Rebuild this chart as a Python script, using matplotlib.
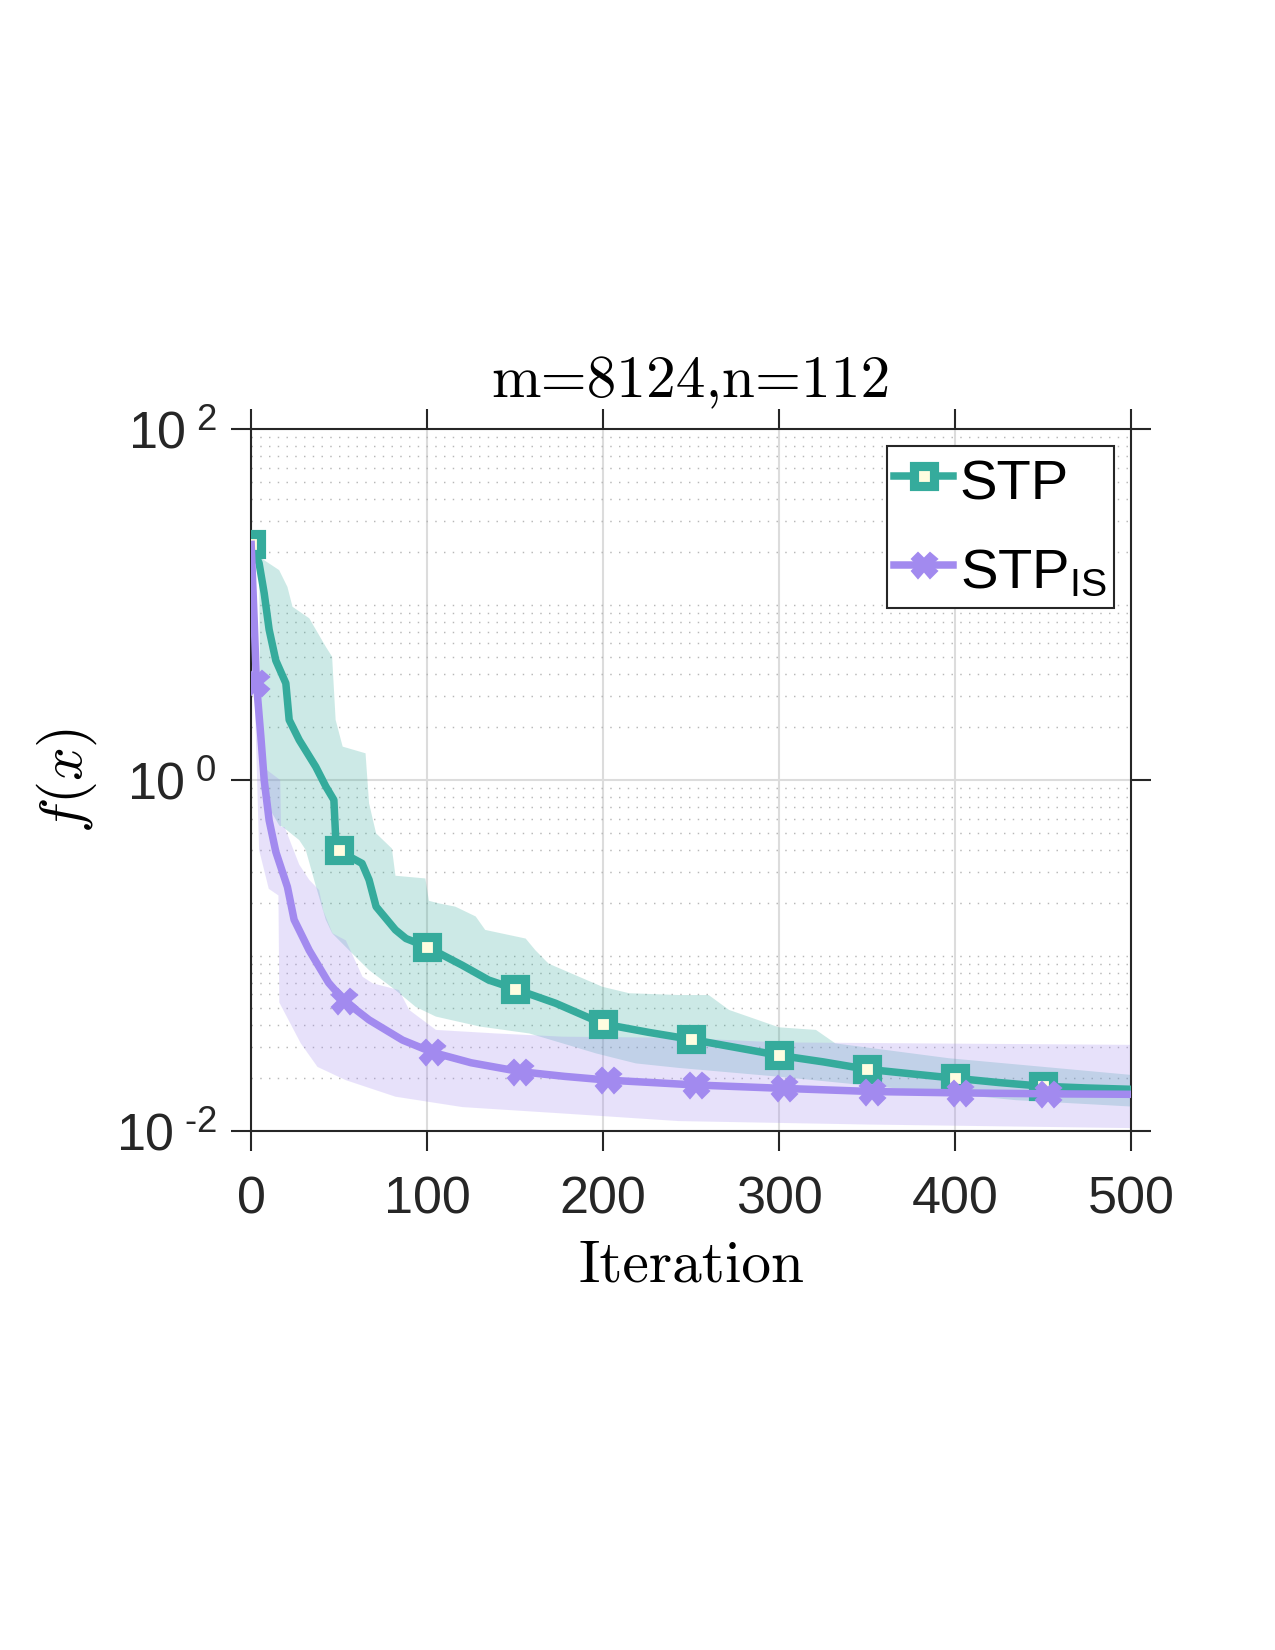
import numpy as np
import matplotlib
matplotlib.use('Agg')
import matplotlib.pyplot as plt
from matplotlib.ticker import FixedLocator, FixedFormatter, NullFormatter

plt.rcParams['font.family'] = 'Liberation Sans'
plt.rcParams['mathtext.fontset'] = 'custom'
plt.rcParams['mathtext.rm'] = 'Liberation Sans'
plt.rcParams['mathtext.it'] = 'Liberation Sans:italic'

GREEN = '#35AB9C'
PURPLE = '#A28AEF'
DARK = '#262626'

# ---- curvas medianas ----
stp_x = np.array([0, 4.5, 7.4, 10.2, 14, 19.7, 21.6, 27.3, 36.7, 42.4, 47, 48, 50, 55, 63, 67, 71,
                  82, 88, 100, 120, 135, 150, 173, 200, 226, 250, 275, 300, 325, 350, 375, 400,
                  425, 450, 475, 500])
stp_y = np.array([22, 17.2, 11.6, 7.2, 4.8, 3.56, 2.2, 1.69, 1.19, 0.92, 0.77, 0.475, 0.40, 0.37,
                  0.335, 0.27, 0.19, 0.14, 0.125, 0.112, 0.088, 0.0725, 0.0645, 0.0535, 0.0408,
                  0.0365, 0.0333, 0.030, 0.027, 0.0248, 0.0225, 0.0212, 0.0200, 0.0189, 0.0180,
                  0.0176, 0.0173])

is_x = np.array([0, 1.7, 3, 5.5, 7.4, 10.2, 14, 20.6, 24.4, 33, 44, 53, 67, 86, 103, 125, 153,
                 178, 203, 228, 253, 303, 353, 403, 453, 500])
is_y = np.array([22, 8.2, 3.56, 1.77, 1.0, 0.59, 0.39, 0.246, 0.16, 0.107, 0.070, 0.0552, 0.043,
                 0.033, 0.0281, 0.0245, 0.0218, 0.0205, 0.0195, 0.0189, 0.0183, 0.0175, 0.0168,
                 0.0165, 0.0163, 0.0162])

# ---- faixas (limite superior / inferior) ----
stp_up_x = np.array([0, 4.5, 15.9, 20.6, 23.5, 33, 42.4, 46, 48, 52, 65, 67, 71, 80, 82, 99, 101,
                     107, 116, 127.6, 133, 156, 161.6, 169, 186, 199.6, 214.8, 243, 260, 271.6,
                     300, 321, 332, 396.6, 500])
stp_up_y = np.array([22, 18.7, 15.7, 12.6, 9.7, 8.35, 5.75, 5.04, 2.2, 1.55, 1.42, 0.736, 0.497,
                     0.407, 0.285, 0.275, 0.205, 0.198, 0.19, 0.167, 0.14, 0.125, 0.107, 0.090,
                     0.076, 0.0664, 0.061, 0.0596, 0.0596, 0.049, 0.039, 0.0377, 0.0316, 0.026,
                     0.0209])
stp_lo_x = np.array([0, 4.5, 5.5, 10, 16, 18, 27.3, 31, 36.7, 42.4, 46, 55.7, 67, 82, 93.5, 105,
                     130, 158, 177, 196, 218.6, 243, 300, 434.5, 500])
stp_lo_y = np.array([22, 17, 0.9, 0.7, 0.55, 0.54, 0.455, 0.40, 0.25, 0.16, 0.134, 0.107, 0.0826,
                     0.0636, 0.051, 0.0449, 0.0394, 0.036, 0.0316, 0.0277, 0.0243, 0.0229, 0.0204,
                     0.015, 0.0138])

is_up_x = np.array([0, 3, 6, 16.5, 17, 19, 27.3, 33, 38.6, 41, 46.2, 53.8, 63.3, 69, 84, 89.8,
                    105, 139, 177, 243, 300, 500])
is_up_y = np.array([22, 5, 1.2, 1.0, 0.54, 0.54, 0.33, 0.27, 0.236, 0.18, 0.134, 0.122, 0.0757,
                    0.0695, 0.0636, 0.049, 0.0377, 0.036, 0.0345, 0.034, 0.032, 0.031])
is_lo_x = np.array([0, 2, 4.5, 10, 15.5, 16, 28.2, 37.7, 53.8, 82, 120, 177, 243, 350, 500])
is_lo_y = np.array([22, 3, 0.40, 0.24, 0.22, 0.054, 0.0316, 0.0232, 0.0195, 0.0157, 0.0137,
                    0.0126, 0.0114, 0.0109, 0.0104])

x_ticks = [0, 100, 200, 300, 400, 500]
y_ticks = [1e-2, 1e0, 1e2]
y_tick_labels = ['$\\mathregular{10^{\\ \u20102}}$', '$\\mathregular{10^{\\ 0}}$',
                 '$\\mathregular{10^{\\ 2}}$']

fig = plt.figure(figsize=(8.5, 11), dpi=150)
ax = fig.add_axes([0.197, 0.3145, 0.690, 0.4255])

# faixas
ax.fill(np.r_[stp_up_x, stp_lo_x[::-1]], np.r_[stp_up_y, stp_lo_y[::-1]],
        color=GREEN, alpha=0.25, lw=0, zorder=2)
ax.fill(np.r_[is_up_x, is_lo_x[::-1]], np.r_[is_up_y, is_lo_y[::-1]],
        color=PURPLE, alpha=0.25, lw=0, zorder=2)

# marcadores a cada 50 iteracoes
stp_marks = list(np.flatnonzero((stp_x % 50 == 0) & (stp_x < 500)))
is_marks = list(np.flatnonzero(((is_x - 3) % 50 == 0) & (is_x < 500)))

ax.plot(stp_x, stp_y, color=GREEN, lw=3.6, marker='s', ms=9.5, mfc='#FFFDE0', mec=GREEN,
        mew=4.4, markevery=stp_marks, label='STP', zorder=3)
ax.plot(is_x, is_y, color=PURPLE, lw=3.6, marker='X', ms=12, mfc=PURPLE, mec=PURPLE,
        mew=1.0, markevery=is_marks, label=r'STP$_\mathregular{IS}$', zorder=4)

ax.set_yscale('log')
ax.set_xlim(0, 500)
ax.set_ylim(1e-2, 1e2)

ax.xaxis.set_major_locator(FixedLocator(x_ticks))
ax.yaxis.set_major_locator(FixedLocator(y_ticks))
ax.yaxis.set_major_formatter(FixedFormatter(y_tick_labels))
minor_y = [k * 10.0 ** e for e in range(-2, 2) for k in range(1, 10) if not (k == 1 and e in (-2, 0))]
ax.yaxis.set_minor_locator(FixedLocator(minor_y))
ax.yaxis.set_minor_formatter(NullFormatter())

ax.set_axisbelow(True)
ax.grid(True, which='major', color='#dcdcdc', lw=1.0)
ax.grid(True, which='minor', axis='y', color='#b8b8b8', lw=0.7, linestyle=(0, (1, 5)))

ax.tick_params(which='major', direction='out', length=9.5, width=1.0, color=DARK,
               top=True, right=True, labelsize=25, labelcolor=DARK)
ax.tick_params(axis='x', which='major', pad=12)
ax.tick_params(axis='y', which='major', pad=7)
ax.tick_params(which='minor', length=0)
for s in ax.spines.values():
    s.set_color(DARK)
    s.set_linewidth(1.0)

ax.set_title('m=8124,n=112', fontfamily='cmr10', fontsize=28.5, pad=15)
ax.set_xlabel('Iteration', fontfamily='cmr10', fontsize=28.5, labelpad=7)
ax.set_ylabel(r'$f(x)$', fontsize=28.5, math_fontfamily='cm', labelpad=8)

leg = ax.legend(loc='upper right', bbox_to_anchor=(0.981, 0.976), borderaxespad=0,
                fontsize=27, handlelength=1.05, handletextpad=0.11, borderpad=0.13,
                handleheight=1.1, labelspacing=0.55, fancybox=False, framealpha=1,
                edgecolor=DARK)
leg.get_frame().set_linewidth(1.0)
leg.set_zorder(10)

fig.savefig('out.png', dpi=150)
